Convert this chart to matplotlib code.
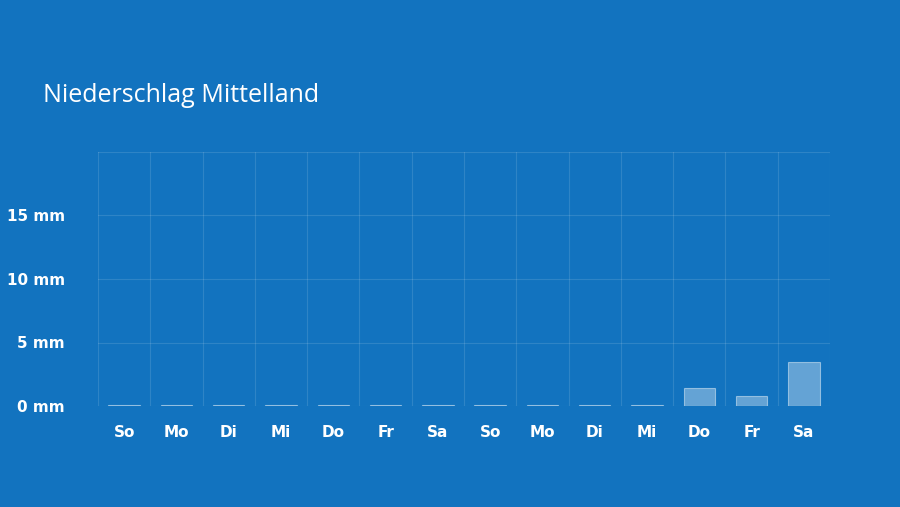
import matplotlib
matplotlib.use("Agg")
import matplotlib.pyplot as plt

days = ["So","Mo","Di","Mi","Do","Fr","Sa","So","Mo","Di","Mi","Do","Fr","Sa"]
precip = [0.05,0.05,0.05,0.05,0.05,0.05,0.05,0.05,0.05,0.05,0.05,1.4,0.75,3.5]
yticks = [0,5,10,15]
ylabels = ["0 mm","5 mm","10 mm","15 mm"]

bg = "#1273bf"
fig = plt.figure(figsize=(9,5.07), dpi=100, facecolor=bg)
ax = fig.add_axes([98/900, 1-406/507, 732/900, 254/507], facecolor=bg)
x = list(range(len(days)))
ax.bar(x, precip, width=0.6, color=(1,1,1,0.35), edgecolor=(1,1,1,0.45), linewidth=0.8, zorder=3)
ax.set_xlim(-0.5, len(days)-0.5)
ax.set_ylim(0, 20)
gc = (1,1,1,0.12)
for i in range(len(days)+1):
    ax.axvline(i-0.5, color=gc, lw=0.8, zorder=1)
for v in [0,5,10,15,20]:
    ax.axhline(v, color=gc, lw=0.8, zorder=1)
for s in ax.spines.values():
    s.set_visible(False)
ax.set_yticks(yticks)
ax.set_yticklabels(ylabels)
ax.set_xticks(x)
ax.set_xticklabels(days)
ax.tick_params(length=0, colors="white", labelsize=11)
for t in ax.get_xticklabels()+ax.get_yticklabels():
    t.set_fontweight("bold")
ax.tick_params(axis="x", pad=14)
ax.tick_params(axis="y", pad=24)
fig.text(43/900, 1-95/507, "Niederschlag Mittelland", color="white", fontsize=18, va="center", fontweight="medium", family="Open Sans")
fig.savefig("out.png", facecolor=bg)
